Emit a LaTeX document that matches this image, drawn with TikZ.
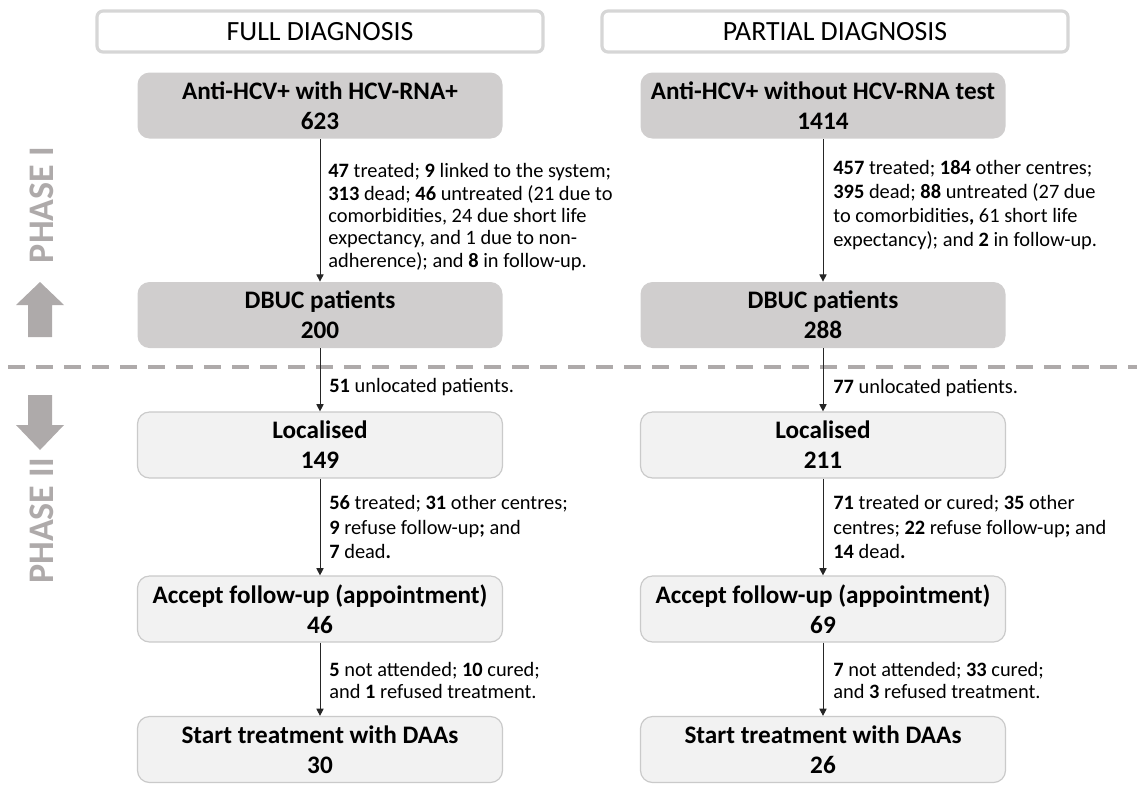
\documentclass[tikz,border=0pt]{standalone}
\usepackage{fontspec}
\setmainfont{Carlito}
\usetikzlibrary{arrows.meta}
\definecolor{boxdark}{HTML}{D0CECE}
\definecolor{boxlight}{HTML}{F2F2F2}
\definecolor{boxedge}{HTML}{CACACA}
\definecolor{phasegray}{HTML}{AEAAAA}
\definecolor{hdedge}{HTML}{D6D6D6}
\begin{document}
\begin{tikzpicture}[x=0.5pt,y=-0.5pt,
  header/.style={draw=hdedge, line width=1.6pt, fill=white, rounded corners=3pt, minimum height=20.5pt, inner sep=0pt, font=\fontsize{13.9}{15}\selectfont},
  stage/.style={rounded corners=6pt, minimum width=182.5pt, minimum height=33pt, align=center, inner sep=0pt, font=\fontsize{12.6}{15}\selectfont\bfseries},
  phaseone/.style={stage, fill=boxdark},
  phasetwo/.style={stage, fill=boxlight, draw=boxedge, line width=0.6pt},
  note/.style={anchor=west, align=left, inner sep=0pt, font=\fontsize{10.2}{11.2}\selectfont},
  flow/.style={draw=black!85, line width=0.5pt, -{Triangle[width=3.6pt,length=3.6pt]}},
  phasetext/.style={rotate=90, text=phasegray, inner sep=0pt, font=\fontsize{18}{18}\selectfont\bfseries}
]
\useasboundingbox (0,0) rectangle (1137,784);
\coordinate (sepL) at (8,367);
\coordinate (sepR) at (1137,367);
\draw[phasegray, line width=1.75pt, dash pattern=on 8.5pt off 5.5pt] (sepL) -- (sepR);

\node[header, minimum width=223pt] (hdFull) at (320,31.5) {FULL DIAGNOSIS};
\node[header, minimum width=233pt] (hdPart) at (835,31.5) {PARTIAL DIAGNOSIS};

\node[phasetext] (phaseOne) at (42,205) {PHASE I};
\node[phasetext] (phaseTwo) at (42,521) {PHASE II};
\fill[phasegray] (40,282) -- (64,305) -- (52,305) -- (52,337) -- (28,337) -- (28,305) -- (16,305) -- cycle;
\fill[phasegray] (28,395) -- (52,395) -- (52,425) -- (64,425) -- (40,450) -- (16,425) -- (28,425) -- cycle;

\node[phaseone] (fullA) at (320,105.5) {Anti-HCV+ with HCV-RNA+\\623};
\node[phaseone] (fullB) at (320,315) {DBUC patients\\200};
\node[phasetwo] (fullC) at (320,445) {Localised\\149};
\node[phasetwo] (fullD) at (320,609) {Accept follow-up (appointment)\\46};
\node[phasetwo] (fullE) at (320,749.5) {Start treatment with DAAs\\30};
\draw[flow] (fullA) -- (fullB);
\draw[flow] (fullB) -- (fullC);
\draw[flow] (fullC) -- (fullD);
\draw[flow] (fullD) -- (fullE);
\node[note] (fullAB) at (328,217) {\textbf{47} treated; \textbf{9} linked to the system;\\\textbf{313} dead; \textbf{46} untreated (21 due to\\comorbidities, 24 due short life\\expectancy, and 1 due to non-\\adherence); and \textbf{8} in follow-up.};
\node[note] (fullBC) at (329,387) {\textbf{51} unlocated patients.};
\node[note, font=\fontsize{10.2}{12.3}\selectfont] (fullCD) at (329,527) {\textbf{56} treated; \textbf{31} other centres;\\\textbf{9} refuse follow-up\textbf{;} and\\\textbf{7} dead\textbf{.}};
\node[note] (fullDE) at (329,680.5) {\textbf{5} not attended; \textbf{10} cured;\\and \textbf{1} refused treatment.};

\node[phaseone] (partA) at (823,105.5) {Anti-HCV+ without HCV-RNA test\\1414};
\node[phaseone] (partB) at (823,315) {DBUC patients\\288};
\node[phasetwo] (partC) at (823,445) {Localised\\211};
\node[phasetwo] (partD) at (823,609) {Accept follow-up (appointment)\\69};
\node[phasetwo] (partE) at (823,749.5) {Start treatment with DAAs\\26};
\draw[flow] (partA) -- (partB);
\draw[flow] (partB) -- (partC);
\draw[flow] (partC) -- (partD);
\draw[flow] (partD) -- (partE);
\node[note, font=\fontsize{10.2}{11.9}\selectfont] (partAB) at (833,205) {\textbf{457} treated; \textbf{184} other centres;\\\textbf{395} dead; \textbf{88} untreated (27 due\\to comorbidities\textbf{,} 61 short life\\expectancy); and \textbf{2} in follow-up.};
\node[note] (partBC) at (833,388) {\textbf{77} unlocated patients.};
\node[note, font=\fontsize{10.2}{12.3}\selectfont] (partCD) at (833,527) {\textbf{71} treated or cured; \textbf{35} other\\centres; \textbf{22} refuse follow-up\textbf{;} and\\\textbf{14} dead\textbf{.}};
\node[note] (partDE) at (833,680.5) {\textbf{7} not attended; \textbf{33} cured;\\and \textbf{3} refused treatment.};
\end{tikzpicture}
\end{document}
